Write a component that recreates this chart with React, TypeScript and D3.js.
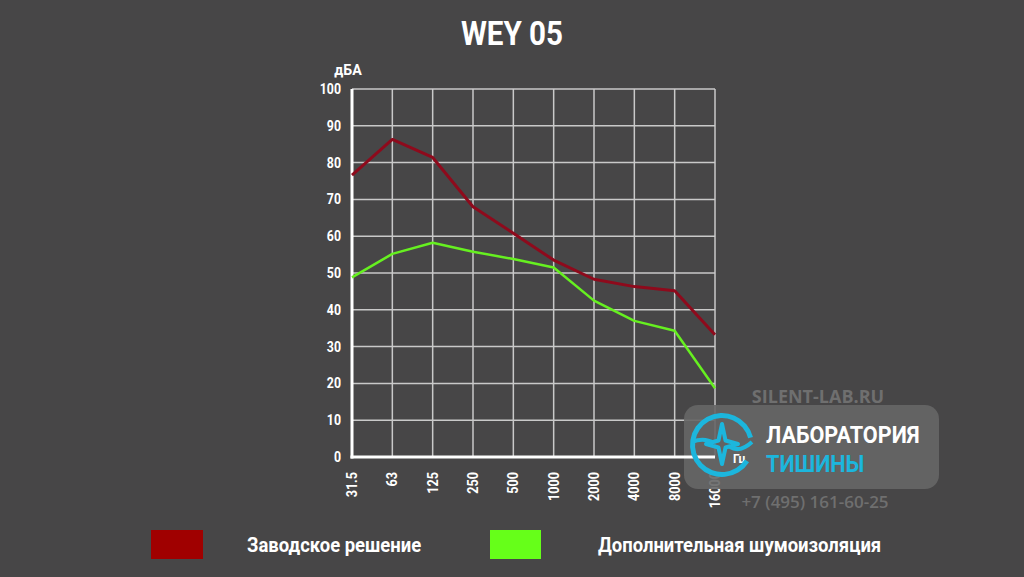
import React from "react";
import * as d3 from "d3";

const categories = ["31.5", "63", "125", "250", "500", "1000", "2000", "4000", "8000", "16000"];
const factory = [76.6, 86.3, 81.4, 68, 60.8, 53.5, 48.3, 46.3, 45.2, 33.2];
const extra = [48.8, 55.2, 58.2, 55.8, 53.8, 51.5, 42.5, 37, 34.3, 18.7];
const yTicks = [0, 10, 20, 30, 40, 50, 60, 70, 80, 90, 100];
const seriesNames = ["Заводское решение", "Дополнительная шумоизоляция"];
const seriesColors = ["#8e0a1c", "#66f020"];
const legendColors = ["#a00000", "#66ff19"];

const W = 1024, H = 577;
const left = 352, right = 715, top = 89, bottom = 457;

export default function App() {
  const x = d3.scalePoint<string>().domain(categories).range([left, right]);
  const y = d3.scaleLinear().domain([0, 100]).range([bottom, top]);
  const line = d3.line<number>().x((_, i) => x(categories[i])!).y((d) => y(d));
  const font = "Roboto, 'Noto Sans', sans-serif";
  const cond = (cx: number, s = 0.82) => `translate(${cx},0) scale(${s},1) translate(${-cx},0)`;

  const starPath = (cx: number, cy: number, Rx: number, Ry: number, r: number) => {
    const pts: string[] = [];
    for (let k = 0; k < 8; k++) {
      const a = (Math.PI / 4) * k - Math.PI / 2;
      const rx = k % 2 === 0 ? Rx : r;
      const ry = k % 2 === 0 ? Ry : r;
      pts.push(`${cx + rx * Math.cos(a)},${cy + ry * Math.sin(a)}`);
    }
    return "M" + pts.join("L") + "Z";
  };
  const lc = { x: 722, y: 445 };
  const arc = d3.arc()({ innerRadius: 27, outerRadius: 32, startAngle: Math.PI * 0.68, endAngle: Math.PI * 2.42 }) as string;

  return (
    <svg width={W} height={H} style={{ position: "absolute", left: 0, top: 0, display: "block" }}>
      <rect x={0} y={0} width={W} height={H} fill="#474647" />
      <text x={512} y={45} textAnchor="middle" fill="#ffffff" fontFamily={font} fontWeight={700} fontSize={34} transform={cond(512, 0.87)}>WEY 05</text>
      <text x={348} y={75} textAnchor="middle" fill="#ffffff" fontFamily={font} fontWeight={700} fontSize={15} transform={cond(348, 0.95)}>дБА</text>
      {yTicks.map((t) => (
        <g key={t}>
          <line x1={left} x2={right} y1={y(t)} y2={y(t)} stroke="#c9c9c9" strokeWidth={1.5} />
          <text x={341} y={y(t) + 5} textAnchor="end" fill="#ffffff" fontFamily={font} fontWeight={700} fontSize={14.5} transform={cond(341, 0.85)}>{t}</text>
        </g>
      ))}
      {categories.map((c) => (
        <g key={c}>
          <line x1={x(c)} x2={x(c)} y1={top} y2={bottom} stroke="#c9c9c9" strokeWidth={1.5} />
          <text transform={`translate(${x(c)! + 5},472) rotate(-90) scale(0.87,1)`} textAnchor="end" fill="#ffffff" fontFamily={font} fontWeight={700} fontSize={14.5}>{c}</text>
        </g>
      ))}
      <line x1={left} x2={left} y1={top} y2={bottom + 1.5} stroke="#ffffff" strokeWidth={3} />
      <path d={line(factory)!} fill="none" stroke={seriesColors[0]} strokeWidth={3} strokeLinejoin="round" />
      <path d={line(extra)!} fill="none" stroke={seriesColors[1]} strokeWidth={2.5} strokeLinejoin="round" />

      {/* logo overlay */}
      <text x={818} y={403} textAnchor="middle" fill="#6f6f6f" fontFamily="'Open Sans', sans-serif" fontWeight={700} fontSize={18}>SILENT-LAB.RU</text>
      <rect x={684} y={405} width={255} height={84} rx={14} fill="#666666" fillOpacity={0.9} />
      <line x1={left - 1.5} x2={right} y1={bottom} y2={bottom} stroke="#ffffff" strokeWidth={3} />
      <text x={733} y={463} fill="#ffffff" fontFamily={font} fontWeight={700} fontSize={12}>Гц</text>
      <path d={arc} transform={`translate(${lc.x},${lc.y})`} fill="#1cb6dd" />
      <path d={`M${lc.x - 30},${lc.y - 3} Q${lc.x - 18},${lc.y - 8} ${lc.x - 8},${lc.y - 2}`} fill="none" stroke="#1cb6dd" strokeWidth={4} />
      <path d={`M${lc.x + 8},${lc.y + 2} Q${lc.x + 18},${lc.y + 8} ${lc.x + 30},${lc.y - 3}`} fill="none" stroke="#1cb6dd" strokeWidth={4} />
      <path d={starPath(lc.x, lc.y - 1, 16, 20, 5)} fill="none" stroke="#1cb6dd" strokeWidth={4} strokeLinejoin="round" />
      <text x={766} y={443} fill="#ffffff" fontFamily={font} fontWeight={700} fontSize={24} transform={cond(766, 0.9)}>ЛАБОРАТОРИЯ</text>
      <text x={766} y={472} fill="#1cb6dd" fontFamily={font} fontWeight={700} fontSize={24} transform={cond(766, 0.9)}>ТИШИНЫ</text>
      <text x={815} y={508} textAnchor="middle" fill="#6f6f6f" fontFamily="'Open Sans', sans-serif" fontWeight={600} fontSize={17}>+7 (495) 161-60-25</text>

      {/* legend */}
      <rect x={151} y={530} width={52} height={29} fill={legendColors[0]} />
      <text x={247} y={552} fill="#ffffff" fontFamily={font} fontWeight={700} fontSize={21} transform={cond(247, 0.88)}>{seriesNames[0]}</text>
      <rect x={490} y={530} width={51} height={29} fill={legendColors[1]} />
      <text x={598} y={552} fill="#ffffff" fontFamily={font} fontWeight={700} fontSize={21} transform={cond(598, 0.88)}>{seriesNames[1]}</text>
    </svg>
  );
}
